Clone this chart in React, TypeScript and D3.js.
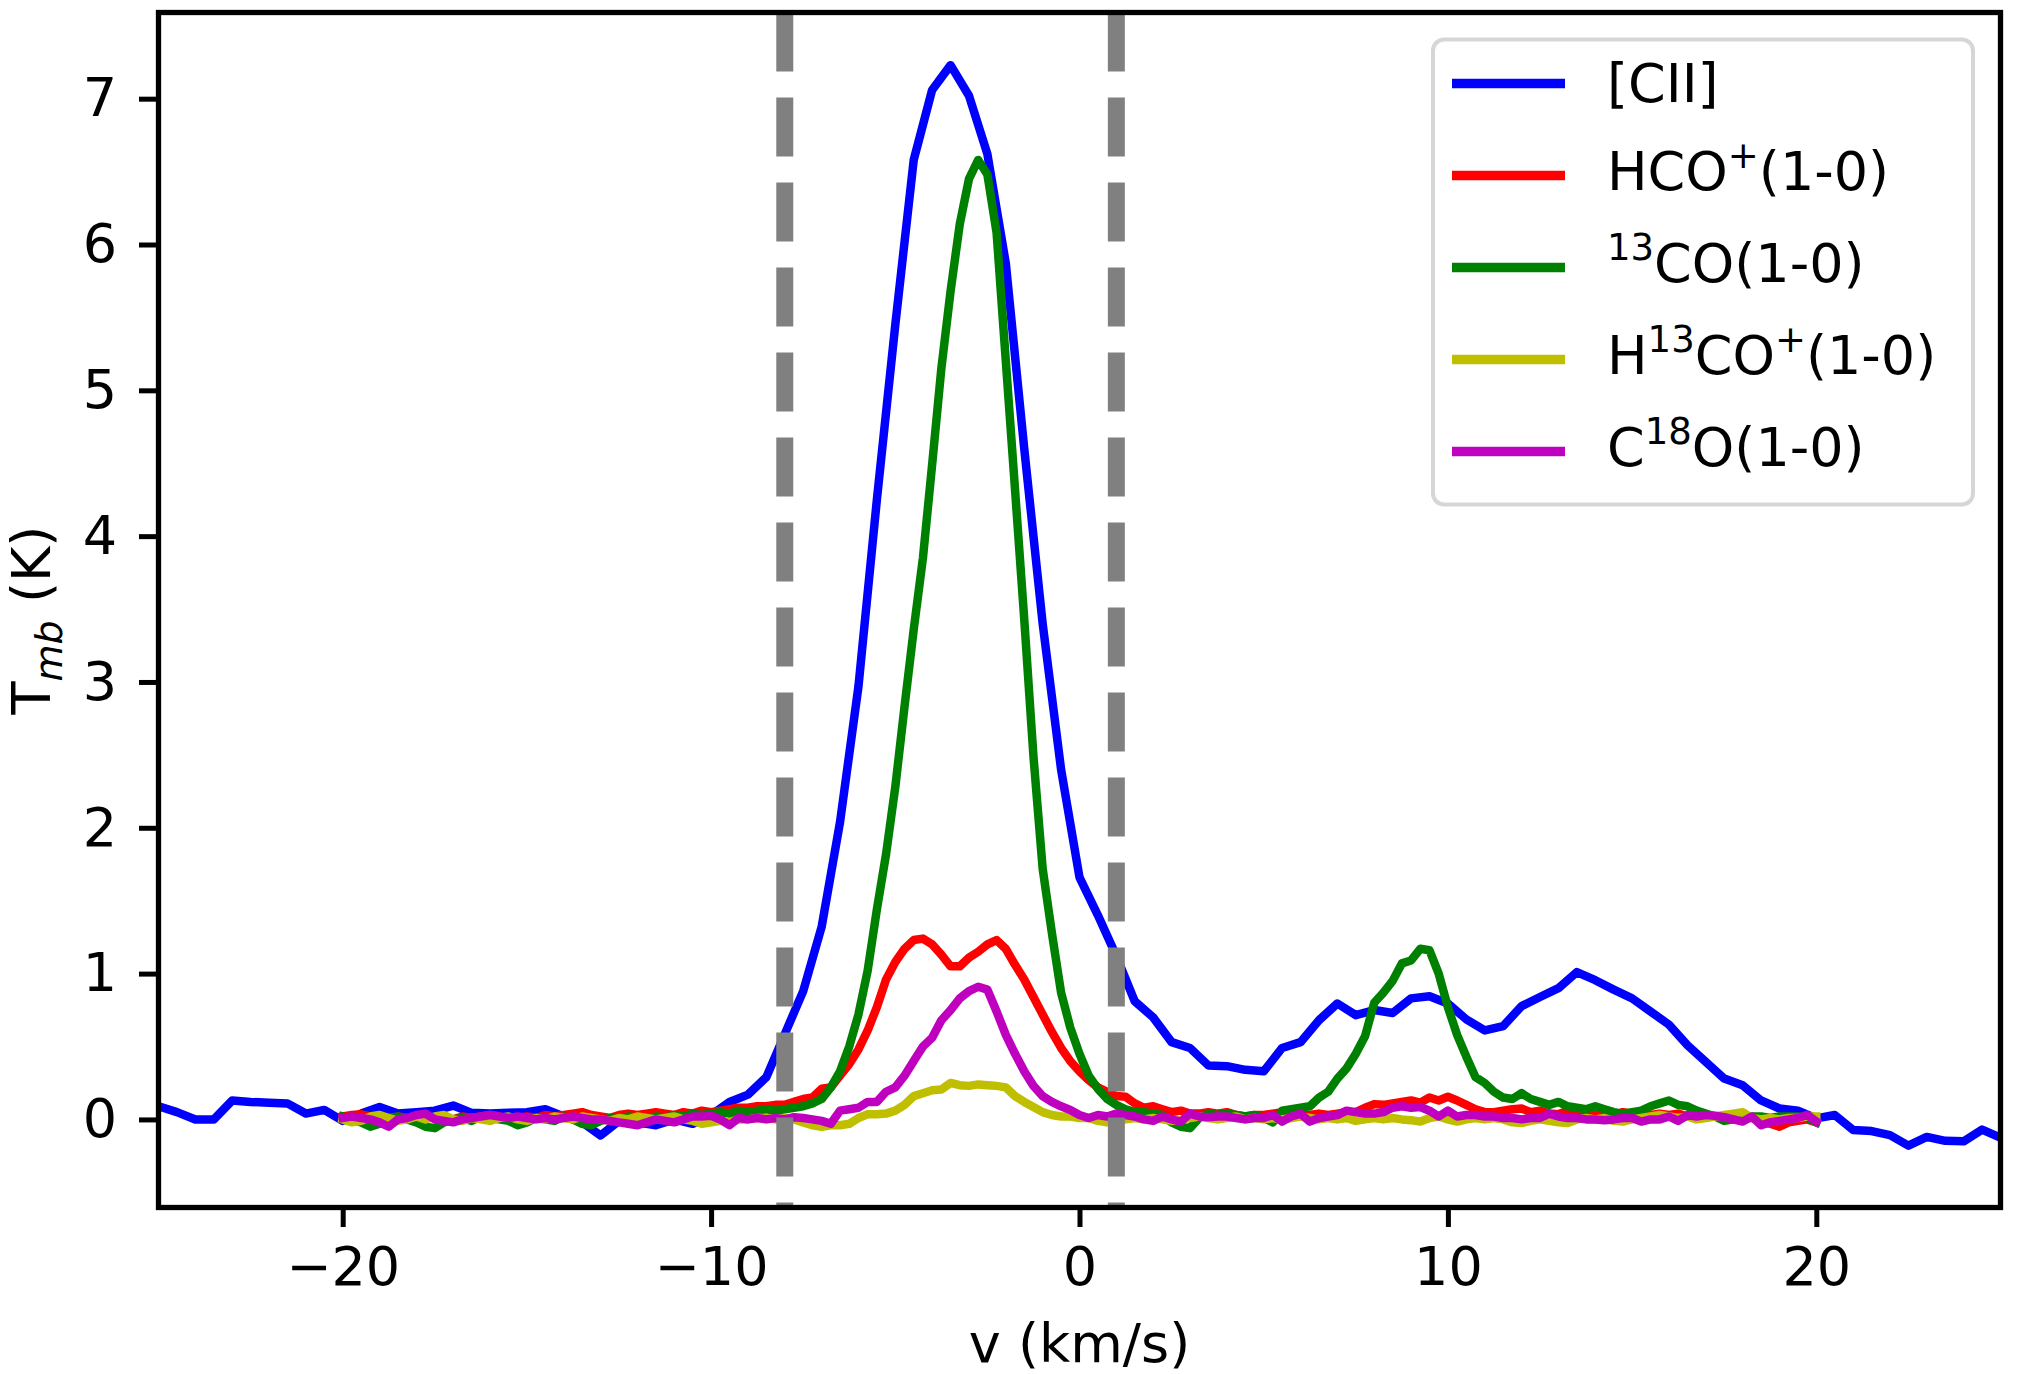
import { useEffect, useRef } from "react";
import * as d3 from "d3";

// [CII] spectrum: 0.5 km/s channels from -25 km/s
const CII_START = -25;
const CII_STEP = 0.5;
const ciiValues = [
  0.09, 0.05, 0.0, 0.0, 0.13, 0.12, 0.115, 0.11, 0.04, 0.065, // -25 .. -20.5
  -0.01, 0.04, 0.085, 0.04, 0.05, 0.06, 0.095, 0.045, 0.04, 0.045, // -20 .. -15.5
  0.05, 0.07, 0.02, -0.02, -0.11, -0.01, -0.02, -0.04, 0.0, -0.03, // -15 .. -10.5
  0.03, 0.12, 0.17, 0.29, 0.585, 0.88, 1.32, 2.04, 2.97, 4.25, // -10 .. -5.5
  5.45, 6.58, 7.06, 7.23, 7.02, 6.62, 5.87, 4.6, 3.4, 2.4, // -5 .. -0.5
  1.66, 1.4, 1.12, 0.81, 0.7, 0.53, 0.49, 0.37, 0.365, 0.34, // 0 .. 4.5
  0.33, 0.49, 0.53, 0.68, 0.795, 0.715, 0.75, 0.73, 0.83, 0.845, // 5 .. 9.5
  0.795, 0.686, 0.61, 0.64, 0.777, 0.84, 0.9, 1.01, 0.955, 0.89, // 10 .. 14.5
  0.83, 0.74, 0.65, 0.51, 0.395, 0.28, 0.235, 0.13, 0.075, 0.06, // 15 .. 19.5
  0.007, 0.03, -0.073, -0.08, -0.108, -0.18, -0.12, -0.147, -0.15, -0.07, // 20 .. 24.5
  -0.125, // 25
];

// molecular lines: 0.25 km/s channels from -20 km/s
const MOL_START = -20;
const MOL_STEP = 0.25;

const hcoValues = [
  0.02, 0.03, 0.035, 0.02, 0.01, 0.0, 0.02, 0.01, // -20
  0.0, 0.02, 0.01, -0.01, 0.0, 0.02, 0.01, 0.02, // -18
  0.03, 0.02, 0.0, 0.01, 0.02, 0.01, 0.03, 0.02, // -16
  0.03, 0.04, 0.05, 0.03, 0.02, 0.01, 0.03, 0.04, // -14
  0.03, 0.04, 0.05, 0.04, 0.03, 0.05, 0.04, 0.06, // -12
  0.05, 0.06, 0.07, 0.08, 0.08, 0.09, 0.09, 0.1, // -10
  0.1, 0.12, 0.14, 0.15, 0.21, 0.22, 0.3, 0.38, // -8
  0.48, 0.61, 0.77, 0.96, 1.08, 1.17, 1.23, 1.24, // -6
  1.2, 1.13, 1.05, 1.05, 1.11, 1.15, 1.2, 1.23, // -4
  1.17, 1.06, 0.96, 0.84, 0.72, 0.6, 0.49, 0.4, // -2
  0.33, 0.27, 0.22, 0.19, 0.16, 0.155, 0.11, 0.08, // 0
  0.09, 0.07, 0.05, 0.06, 0.04, 0.04, 0.05, 0.04, // 2
  0.05, 0.03, 0.02, 0.03, 0.03, 0.04, 0.05, 0.04, // 4
  0.03, 0.03, 0.04, 0.03, 0.04, 0.05, 0.05, 0.08, // 6
  0.105, 0.1, 0.11, 0.12, 0.13, 0.115, 0.15, 0.13, // 8
  0.155, 0.13, 0.1, 0.07, 0.05, 0.05, 0.06, 0.07, // 10
  0.075, 0.05, 0.06, 0.04, 0.035, 0.06, 0.04, 0.02, // 12
  0.03, 0.04, 0.03, 0.05, 0.04, 0.04, 0.03, 0.04, // 14
  0.03, 0.04, 0.02, 0.02, 0.03, 0.02, 0.01, 0.02, // 16
  0.01, 0.01, -0.01, -0.03, -0.05, -0.02, -0.01, 0.0, // 18
  -0.02, // 20
];

const co13Values = [
  0.02, 0.0, -0.02, -0.05, -0.03, 0.01, 0.02, 0.0, // -20
  -0.02, -0.05, -0.06, -0.02, 0.0, 0.01, -0.01, 0.02, // -18
  0.01, 0.0, -0.01, -0.04, -0.02, 0.01, 0.0, -0.01, // -16
  0.02, 0.0, -0.03, -0.04, -0.01, 0.01, 0.0, 0.02, // -14
  0.01, 0.0, 0.02, 0.01, 0.03, 0.02, 0.04, 0.03, // -12
  0.04, 0.05, 0.04, 0.06, 0.05, 0.06, 0.07, 0.06, // -10
  0.07, 0.08, 0.09, 0.11, 0.14, 0.22, 0.33, 0.5, // -8
  0.72, 1.02, 1.44, 1.82, 2.28, 2.83, 3.36, 3.85, // -6
  4.49, 5.15, 5.68, 6.14, 6.45, 6.58, 6.48, 6.08, // -4
  5.2, 4.32, 3.43, 2.49, 1.72, 1.28, 0.87, 0.63, // -2
  0.45, 0.3, 0.21, 0.14, 0.1, 0.07, 0.05, 0.05, // 0
  0.04, 0.03, -0.02, -0.05, -0.06, 0.01, 0.04, 0.03, // 2
  0.04, 0.03, 0.02, 0.03, 0.01, -0.02, 0.06, 0.07, // 4
  0.08, 0.09, 0.15, 0.19, 0.28, 0.35, 0.45, 0.57, // 6
  0.8, 0.87, 0.95, 1.07, 1.09, 1.17, 1.16, 1.0, // 8
  0.77, 0.58, 0.43, 0.29, 0.25, 0.19, 0.15, 0.14, // 10
  0.18, 0.14, 0.12, 0.1, 0.12, 0.09, 0.08, 0.07, // 12
  0.09, 0.07, 0.05, 0.04, 0.05, 0.06, 0.09, 0.11, // 14
  0.13, 0.1, 0.09, 0.06, 0.04, 0.02, -0.01, 0.0, // 16
  0.0, 0.02, 0.02, 0.01, 0.02, 0.02, 0.02, 0.01, // 18
  -0.02, // 20
];

const h13coValues = [
  0.0, -0.02, -0.01, 0.02, 0.03, 0.01, -0.01, 0.0, // -20
  0.02, 0.0, 0.02, 0.03, 0.0, -0.01, 0.01, 0.0, // -18
  -0.01, 0.01, 0.02, 0.0, -0.01, 0.01, 0.0, 0.02, // -16
  0.01, 0.0, 0.02, 0.01, 0.0, -0.01, 0.01, 0.0, // -14
  0.02, 0.01, 0.0, 0.01, 0.02, 0.0, -0.01, -0.03, // -12
  -0.02, -0.01, -0.02, 0.0, 0.0, 0.01, 0.01, 0.0, // -10
  0.01, 0.0, -0.02, -0.04, -0.05, -0.04, -0.04, -0.03, // -8
  0.01, 0.035, 0.035, 0.04, 0.06, 0.1, 0.16, 0.18, // -6
  0.2, 0.205, 0.25, 0.235, 0.23, 0.24, 0.235, 0.23, // -4
  0.22, 0.16, 0.12, 0.085, 0.05, 0.03, 0.02, 0.02, // -2
  0.01, 0.01, -0.01, -0.02, -0.01, 0.0, 0.01, 0.0, // 0
  0.01, 0.0, -0.01, -0.005, 0.01, 0.02, 0.01, 0.0, // 2
  0.01, 0.02, 0.0, 0.01, 0.0, 0.01, 0.0, 0.01, // 4
  0.02, 0.01, 0.0, 0.01, 0.0, 0.01, -0.01, 0.0, // 6
  0.01, 0.0, 0.01, 0.0, -0.005, -0.015, 0.01, 0.02, // 8
  0.0, -0.015, 0.0, 0.01, 0.0, 0.01, 0.0, -0.02, // 10
  -0.025, -0.01, 0.0, -0.01, -0.02, -0.025, 0.0, 0.01, // 12
  0.0, 0.01, -0.01, -0.015, 0.0, 0.01, 0.02, 0.03, // 14
  0.02, 0.01, 0.02, 0.0, 0.01, 0.02, 0.03, 0.04, // 16
  0.05, 0.01, 0.0, 0.01, 0.0, 0.01, 0.01, 0.02, // 18
  0.02, // 20
];

const c18oValues = [
  0.01, 0.02, 0.01, 0.0, -0.02, -0.05, 0.0, 0.01, // -20
  0.03, 0.04, 0.0, -0.01, -0.02, 0.0, 0.01, 0.02, // -18
  0.03, 0.02, 0.01, 0.02, 0.01, 0.0, 0.01, 0.0, // -16
  0.01, 0.02, 0.01, 0.0, 0.0, -0.01, -0.02, -0.03, // -14
  -0.04, -0.02, 0.0, -0.01, -0.02, 0.0, 0.02, 0.02, // -12
  0.025, 0.0, -0.04, 0.01, 0.0, 0.01, 0.0, 0.01, // -10
  0.0, 0.015, 0.01, 0.0, -0.01, -0.03, 0.06, 0.07, // -8
  0.08, 0.12, 0.12, 0.19, 0.22, 0.3, 0.4, 0.5, // -6
  0.56, 0.68, 0.75, 0.83, 0.88, 0.91, 0.89, 0.74, // -4
  0.58, 0.45, 0.33, 0.23, 0.16, 0.12, 0.09, 0.065, // -2
  0.03, 0.01, 0.03, 0.02, 0.04, 0.03, 0.02, 0.0, // 0
  -0.01, 0.02, 0.0, -0.015, 0.04, 0.02, 0.015, 0.02, // 2
  0.02, 0.01, 0.0, 0.01, 0.01, 0.03, -0.015, 0.02, // 4
  0.04, -0.015, 0.01, 0.02, 0.03, 0.06, 0.05, 0.04, // 6
  0.04, 0.05, 0.08, 0.09, 0.08, 0.085, 0.06, 0.02, // 8
  0.06, 0.02, 0.03, 0.03, 0.02, 0.02, 0.01, 0.01, // 10
  0.0, 0.01, 0.01, 0.04, 0.02, 0.01, 0.01, 0.0, // 12
  0.0, -0.005, 0.0, 0.01, 0.01, -0.015, 0.0, 0.0, // 14
  0.02, -0.01, 0.03, 0.02, 0.03, 0.025, 0.015, 0.0, // 16
  -0.015, 0.02, -0.04, -0.02, -0.01, 0.0, 0.01, 0.03, // 18
  -0.015, // 20
];

const xTicks = [-20, -10, 0, 10, 20];
const yTicks = [0, 1, 2, 3, 4, 5, 6, 7];
const velocityMarkers = [-8, 1];

type Seg = { t: string; sup?: boolean };
type Series = { label: Seg[]; color: string; start: number; step: number; values: number[] };

const series: Series[] = [
  { label: [{ t: "[CII]" }], color: "#0000ff", start: CII_START, step: CII_STEP, values: ciiValues },
  { label: [{ t: "HCO" }, { t: "+", sup: true }, { t: "(1-0)" }], color: "#ff0000", start: MOL_START, step: MOL_STEP, values: hcoValues },
  { label: [{ t: "13", sup: true }, { t: "CO(1-0)" }], color: "#008000", start: MOL_START, step: MOL_STEP, values: co13Values },
  { label: [{ t: "H" }, { t: "13", sup: true }, { t: "CO" }, { t: "+", sup: true }, { t: "(1-0)" }], color: "#bfbf00", start: MOL_START, step: MOL_STEP, values: h13coValues },
  { label: [{ t: "C" }, { t: "18", sup: true }, { t: "O(1-0)" }], color: "#bf00bf", start: MOL_START, step: MOL_STEP, values: c18oValues },
];

const FONT = "'DejaVu Sans', Verdana, sans-serif";

export default function App() {
  const svgRef = useRef<SVGSVGElement | null>(null);

  useEffect(() => {
    if (!svgRef.current) return;
    const W = 2018, H = 1374;
    const left = 158.5, right = 2000.5, top = 12.5, bottom = 1207.5;
    const fs = 54;

    const svg = d3.select(svgRef.current);
    svg.selectAll("*").remove();
    svg.attr("viewBox", `0 0 ${W} ${H}`);
    svg.append("rect").attr("width", W).attr("height", H).attr("fill", "#fff");

    const x = d3.scaleLinear().domain([-25, 25]).range([left, right]);
    const y = d3.scaleLinear().domain([-0.604, 7.591]).range([bottom, top]);

    svg.append("clipPath").attr("id", "plot-clip")
      .append("rect").attr("x", left).attr("y", top)
      .attr("width", right - left).attr("height", bottom - top);

    const plot = svg.append("g").attr("clip-path", "url(#plot-clip)");

    const line = d3.line<[number, number]>().x((d) => x(d[0])).y((d) => y(d[1]));

    for (const s of series) {
      const pts: [number, number][] = s.values.map((v, i) => [s.start + i * s.step, v]);
      plot.append("path")
        .datum(pts)
        .attr("d", line)
        .attr("fill", "none")
        .attr("stroke", s.color)
        .attr("stroke-width", 8.5)
        .attr("stroke-linejoin", "round")
        .attr("stroke-linecap", "square");
    }

    // dashed velocity-range markers (drawn top to bottom so the dash phase matches)
    for (const v of velocityMarkers) {
      plot.append("line")
        .attr("x1", x(v)).attr("x2", x(v))
        .attr("y1", top).attr("y2", bottom)
        .attr("stroke", "#808080")
        .attr("stroke-width", 17)
        .attr("stroke-dasharray", "59,26");
    }

    // axes
    const fmt = (d: d3.NumberValue) => {
      const n = +d;
      return n < 0 ? `\u2212${Math.abs(n)}` : `${n}`;
    };

    const xAxis = svg.append("g").attr("transform", `translate(0,${bottom})`)
      .call(d3.axisBottom(x).tickValues(xTicks).tickSize(19.5).tickPadding(20).tickFormat(fmt));
    const yAxis = svg.append("g").attr("transform", `translate(${left},0)`)
      .call(d3.axisLeft(y).tickValues(yTicks).tickSize(19.5).tickPadding(22).tickFormat(fmt));

    for (const ax of [xAxis, yAxis]) {
      ax.select(".domain").remove();
      ax.selectAll("line").attr("stroke", "#000").attr("stroke-width", 5);
      ax.selectAll("text").attr("font-family", FONT).attr("font-size", fs).attr("fill", "#000");
    }

    svg.append("rect")
      .attr("x", left).attr("y", top)
      .attr("width", right - left).attr("height", bottom - top)
      .attr("fill", "none").attr("stroke", "#000").attr("stroke-width", 5.3);

    // axis labels
    svg.append("text")
      .attr("x", (left + right) / 2).attr("y", 1362)
      .attr("text-anchor", "middle")
      .attr("font-family", FONT).attr("font-size", fs)
      .text("v (km/s)");

    const yl = svg.append("text")
      .attr("transform", `translate(50,620) rotate(-90)`)
      .attr("text-anchor", "middle")
      .attr("font-family", FONT).attr("font-size", fs);
    yl.append("tspan").text("T");
    yl.append("tspan").attr("dy", 12).attr("font-size", 38).attr("font-style", "italic").text("mb");
    yl.append("tspan").attr("dy", -12).text(" (K)");

    // legend
    const lg = svg.append("g");
    lg.append("rect")
      .attr("x", 1433).attr("y", 39.5)
      .attr("width", 540).attr("height", 465)
      .attr("rx", 11)
      .attr("fill", "#fff").attr("fill-opacity", 0.8)
      .attr("stroke", "#cccccc").attr("stroke-opacity", 0.8).attr("stroke-width", 4);

    series.forEach((s, i) => {
      const hy = 83.5 + i * 92;
      lg.append("line")
        .attr("x1", 1452).attr("x2", 1565)
        .attr("y1", hy).attr("y2", hy)
        .attr("stroke", s.color).attr("stroke-width", 9.5);
      const hasSup = s.label.some((g) => g.sup);
      const t = lg.append("text")
        .attr("x", 1607).attr("y", hy + (hasSup ? 14.5 : 18.5))
        .attr("font-family", FONT).attr("font-size", fs).attr("fill", "#000");
      let shift = 0;
      for (const g of s.label) {
        const target = g.sup ? -22 : 0;
        const ts = t.append("tspan").attr("dy", target - shift).text(g.t);
        if (g.sup) ts.attr("font-size", 37);
        shift = target;
      }
    });
  }, []);

  return (
    <svg
      ref={svgRef}
      width={2018}
      height={1374}
      style={{ position: "absolute", left: 0, top: 0, display: "block" }}
    />
  );
}
